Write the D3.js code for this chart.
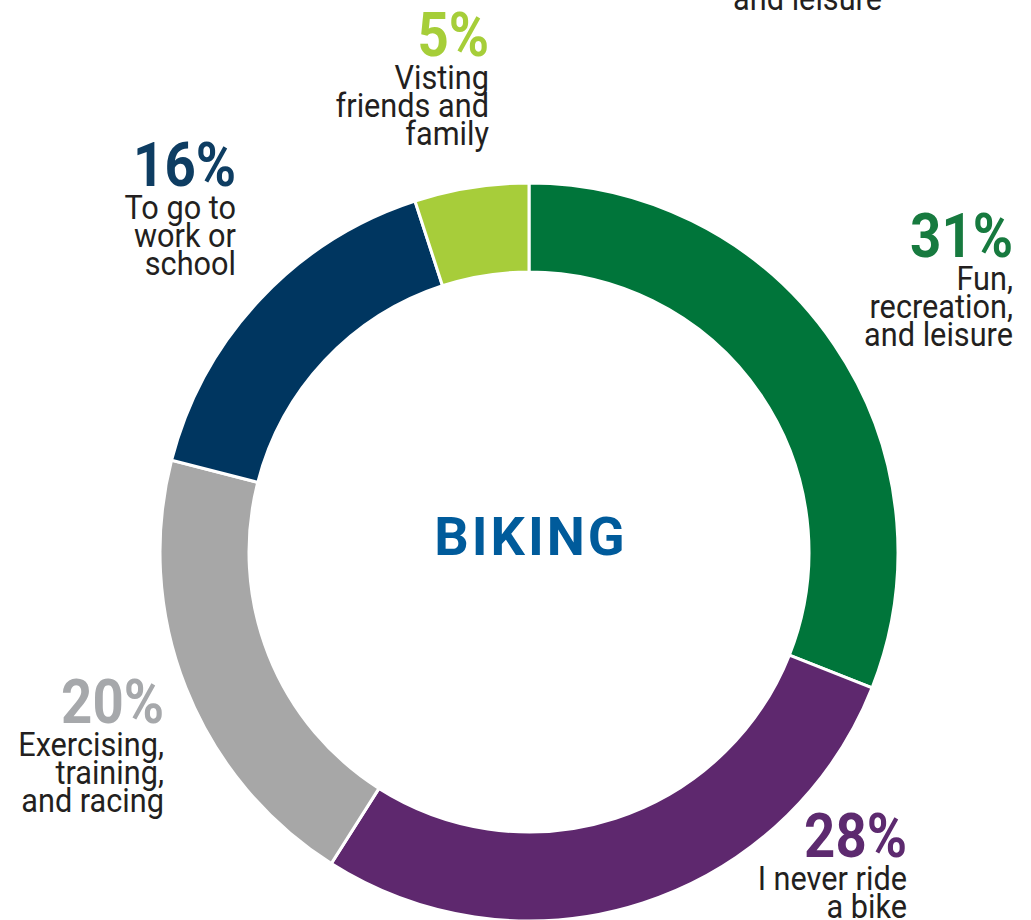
<!DOCTYPE html>
<html>
<head>
<meta charset="utf-8">
<script src="https://cdn.jsdelivr.net/npm/d3@7"></script>
<style>
  html, body { margin: 0; padding: 0; background: #ffffff; }
  svg { display: block; }
  text { font-family: Roboto, "Noto Sans", sans-serif; }
</style>
</head>
<body>
<script>
// Reasons for biking, share of respondents (%)
const categories = [
  "Fun, recreation, and leisure",
  "I never ride a bike",
  "Exercising, training, and racing",
  "To go to work or school",
  "Visting friends and family"
];
const values = [31, 28, 20, 16, 5];
const sliceColors = ["#00753a", "#5e286e", "#a7a7a7", "#003660", "#a7cd3a"];
const pctColors   = ["#177a3f", "#5d2a6f", "#a6a8ab", "#0e3d62", "#a6ce39"];
const labelLines = [
  ["Fun,", "recreation,", "and leisure"],
  ["I never ride", "a bike"],
  ["Exercising,", "training,", "and racing"],
  ["To go to", "work or", "school"],
  ["Visting", "friends and", "family"]
];
// label anchors (right edge, baseline of the percent figure)
const labelAnchors = [[1013, 257], [907, 857], [164, 723], [236, 186], [489, 56]];
const centerTitle = "BIKING";

const W = 1031, H = 920;
const cx = 529, cy = 552, rOuter = 369, rInner = 280;

const svg = d3.select("body").append("svg")
  .attr("width", W).attr("height", H);

const data = categories.map((c, i) => ({
  name: c, value: values[i], color: sliceColors[i],
  pct: pctColors[i], lines: labelLines[i], anchor: labelAnchors[i]
}));

const pie = d3.pie().value(d => d.value).sort(null);
const arc = d3.arc().innerRadius(rInner).outerRadius(rOuter);

const ring = svg.append("g").attr("transform", `translate(${cx},${cy})`);
ring.selectAll("path")
  .data(pie(data))
  .join("path")
  .attr("d", arc)
  .attr("fill", d => d.data.color)
  .attr("stroke", "#ffffff")
  .attr("stroke-width", 3)
  .attr("stroke-linejoin", "miter");

// center title
svg.append("text")
  .attr("x", cx + 2).attr("y", 555)
  .attr("text-anchor", "middle")
  .attr("font-weight", 700)
  .attr("font-size", 54)
  .attr("letter-spacing", 3)
  .attr("fill", "#005b9b")
  .text(centerTitle);

// condensed-looking labels: Roboto squeezed horizontally
const pctSqueeze = 0.88, textSqueeze = 0.93;
const labels = svg.selectAll("g.label")
  .data(data)
  .join("g")
  .attr("class", "label")
  .attr("transform", d => `translate(${d.anchor[0]},${d.anchor[1]})`);

labels.append("text")
  .attr("text-anchor", "end")
  .attr("transform", `scale(${pctSqueeze},1)`)
  .attr("font-weight", 700)
  .attr("font-size", 62)
  .attr("fill", d => d.pct)
  .text(d => d3.format("d")(d.value) + "%");

labels.each(function(d) {
  const g = d3.select(this);
  d.lines.forEach((ln, j) => {
    g.append("text")
      .attr("text-anchor", "end")
      .attr("transform", `translate(0,${33 + j * 28}) scale(${textSqueeze},1)`)
      .attr("font-size", 33)
      .attr("fill", "#231f20")
      .text(ln);
  });
});

// trailing caption from the neighbouring panel above
svg.append("g")
  .attr("transform", `translate(882,10) scale(${textSqueeze},1)`)
  .append("text")
  .attr("text-anchor", "end")
  .attr("font-size", 33)
  .attr("fill", "#231f20")
  .text("and leisure");
</script>
</body>
</html>
